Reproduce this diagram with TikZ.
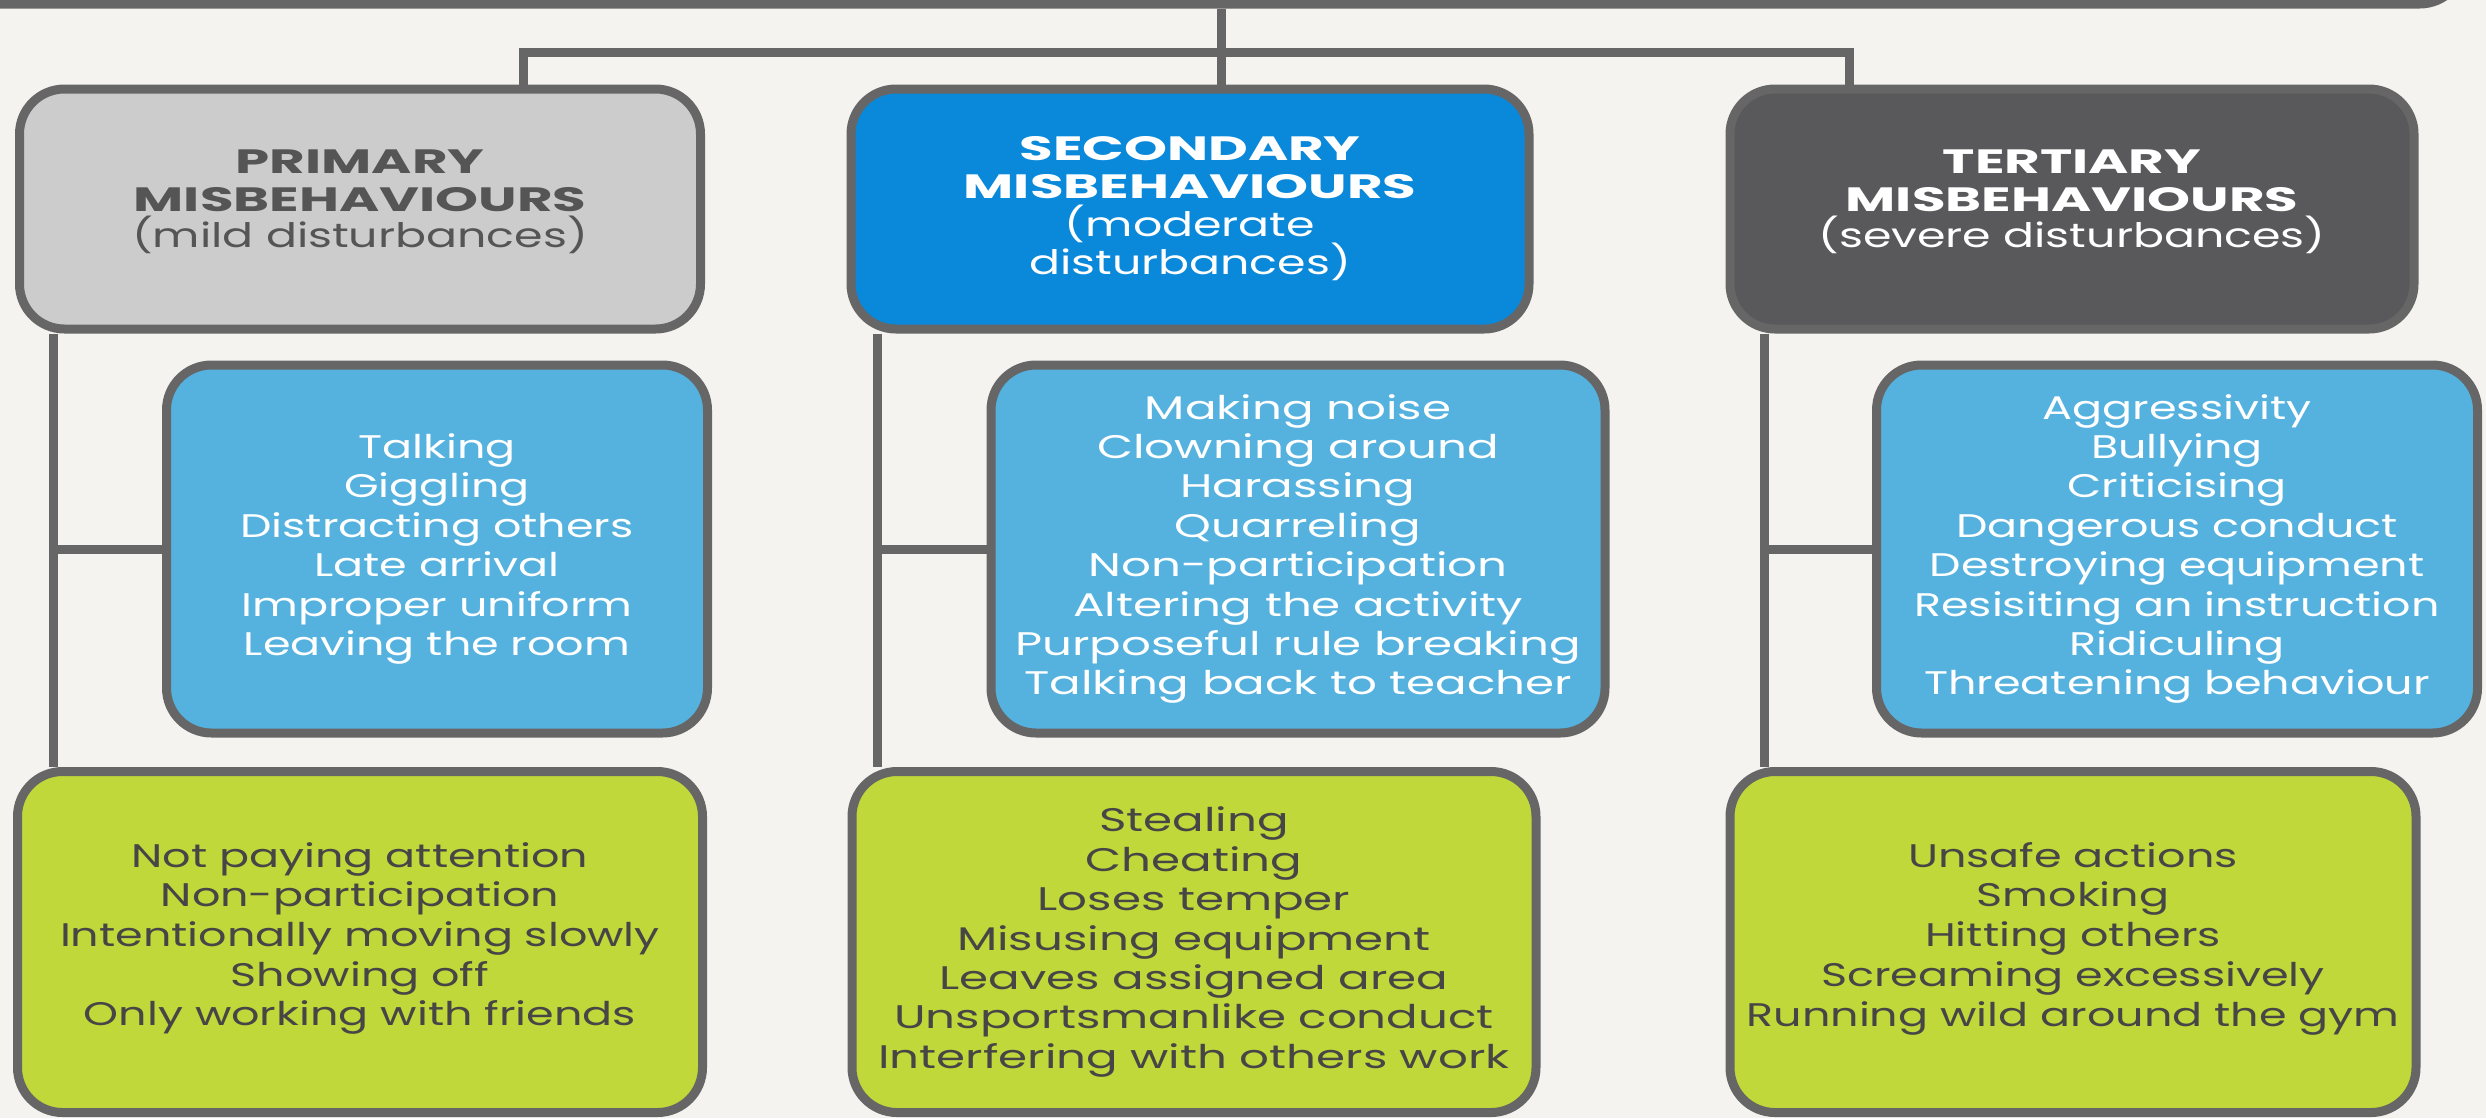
\documentclass[tikz,border=0pt]{standalone}
\usepackage{fontspec}
\setmainfont{Poppins}[FakeStretch=1.36]
\newfontfamily\headfont{Poppins}[FakeStretch=1.62]
\newfontfamily\widefont{Poppins}[FakeStretch=1.43]
\definecolor{bgcol}{HTML}{F5F3F0}
\definecolor{linecol}{HTML}{666666}
\definecolor{greyfill}{HTML}{CCCCCC}
\definecolor{bluefill}{HTML}{0A88DA}
\definecolor{darkfill}{HTML}{59595B}
\definecolor{skyfill}{HTML}{55B2DF}
\definecolor{limefill}{HTML}{C0D839}
\definecolor{greytext}{HTML}{555555}
\definecolor{limetext}{HTML}{464646}
\newcommand{\hd}[1]{{\headfont\bfseries #1}}
\begin{document}
\begin{tikzpicture}[x=0.1mm,y=-0.1mm]
\tikzstyle{box}=[rectangle, draw=linecol, line width=0.9mm, rounded corners=4.5mm,
                        align=center, inner sep=0pt]
 \tikzstyle{hdr}=[box, minimum height=24mm, font=\fontsize{9.6}{10.8}\selectfont]
 \tikzstyle{lst}=[box, fill=skyfill, text=white, minimum height=36.8mm,
                        font=\fontsize{9.3}{11.2}\selectfont]
 \tikzstyle{grn}=[box, fill=limefill, text=limetext, minimum height=34.1mm,
                        font=\fontsize{9.3}{11.3}\selectfont]
 \tikzstyle{wide}=[font=\fontsize{9.3}{11.2}\widefont]
 \tikzstyle{wire}=[draw=linecol, line width=0.9mm]
	\useasboundingbox (0,0) rectangle (2486,1118);
	\clip (0,0) rectangle (2486,1118);
	\fill[bgcol] (0,0) rectangle (2486,1118);
	\node[box, fill=bgcol, minimum width=256.5mm, minimum height=20.4mm] (top) at (1182,-98){};
	\node[hdr, fill=greyfill, text=greytext, minimum width=68.1mm] (hdrA) at (360,209)
		{\hd{PRIMARY}\\\hd{MISBEHAVIOURS}\\[-0.5pt](mild disturbances)\\[-5pt]};
	\node[hdr, fill=bluefill, text=white, minimum width=67.8mm] (hdrB) at (1190,209)
		{\hd{SECONDARY}\\\hd{MISBEHAVIOURS}\\(moderate\\disturbances)};
	\node[hdr, fill=darkfill, text=white, minimum width=68.4mm] (hdrC) at (2072,209)
		{\hd{TERTIARY}\\\hd{MISBEHAVIOURS}\\[-0.5pt](severe disturbances)\\[-5pt]};
	\node[lst, minimum width=54.1mm] (lstA) at (437,549)
		{Talking\\Giggling\\Distracting others\\Late arrival\\Improper uniform\\Leaving the room};
	\node[lst, wide, minimum width=61.4mm] (lstB) at (1298,549)
		{Making noise\\Clowning around\\Harassing\\Quarreling\\Non-participation\\Altering the activity\\Purposeful rule breaking\\Talking back to teacher};
	\node[lst, minimum width=60.1mm] (lstC) at (2177,549)
		{Aggressivity\\Bullying\\Criticising\\Dangerous conduct\\Destroying equipment\\Resisiting an instruction\\Ridiculing\\Threatening behaviour};
	\node[grn, minimum width=68.5mm] (grnA) at (360,942)
		{Not paying attention\\Non-participation\\Intentionally moving slowly\\Showing off\\Only working with friends\\[-6.8pt]};
	\node[grn, wide, minimum width=68.4mm] (grnB) at (1194,942)
		{Stealing\\Cheating\\Loses temper\\Misusing equipment\\Leaves assigned area\\Unsportsmanlike conduct\\Interfering with others work};
	\node[grn, minimum width=68.6mm] (grnC) at (2073,942)
		{Unsafe actions\\Smoking\\Hitting others\\Screaming excessively\\Running wild around the gym\\[-6.8pt]};
	\coordinate (jn) at (1221,52);
	\coordinate (brA) at (523,52);
	\coordinate (brC) at (1849,52);
	\coordinate (spA) at (53,0);
	\coordinate (spB) at (877,0);
	\coordinate (spC) at (1764,0);

\draw[wire] (top.south -| jn) -- (hdrB.north -| jn);
\draw[wire] (hdrA.north -| brA) -- (brA) -- (brC) -- (hdrC.north -| brC);
\foreach \i in {A,B,C}{\draw[wire] (hdr\i.south -| sp\i) -- (grn\i.north -| sp\i);
	\draw[wire] (sp\i |- lst\i.west) -- (lst\i.west);}

\end{tikzpicture}
\end{document}
